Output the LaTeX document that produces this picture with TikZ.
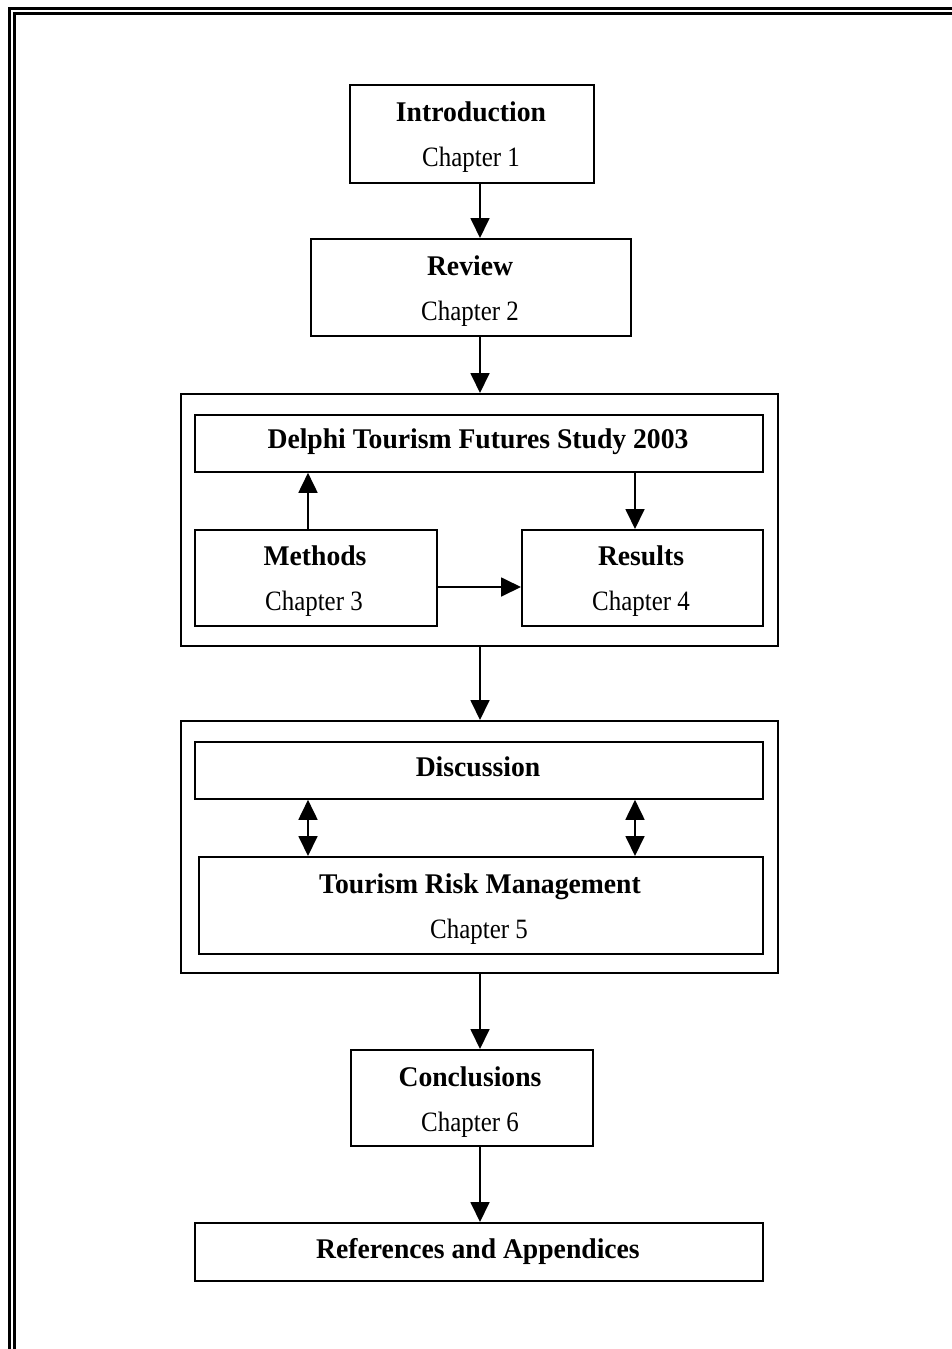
\documentclass[tikz,border=0pt]{standalone}
\usepackage{fontspec}
\setmainfont{Liberation Serif}
\usetikzlibrary{arrows.meta}
\newcommand{\ttltext}[1]{\scalebox{0.97}[1]{#1}}
\newcommand{\chptext}[1]{\scalebox{0.89}[1]{#1}}
\begin{document}
\begin{tikzpicture}[x=1pt,y=-1pt,
  box/.style={draw, line width=1.8pt, anchor=north west, inner sep=0pt},
  ttl/.style={font=\fontsize{28.5}{30}\selectfont\bfseries, inner sep=0pt, anchor=base},
  chp/.style={font=\fontsize{28}{30}\selectfont, inner sep=0pt, anchor=base},
  arr/.style={line width=1.8pt, -{Triangle[length=20pt,width=19pt]}},
  darr/.style={line width=1.8pt, {Triangle[length=20pt,width=19pt]}-{Triangle[length=20pt,width=19pt]}}]
\useasboundingbox (0,0) rectangle (952,1349);
\fill[white] (0,0) rectangle (952,1349);
% page frame
\draw[line width=3pt] (9,8) rectangle (975,1380);
\draw[line width=2.2pt] (14.5,13.5) rectangle (970,1375);

% Introduction
\node[box, minimum width=244pt, minimum height=98pt] (intro) at (349,84) {};
\node[ttl] (introT) at (471,121.5) {\ttltext{Introduction}};
\node[chp] (introC) at (471,166.5) {\chptext{Chapter 1}};

% Review
\node[box, minimum width=320pt, minimum height=97pt] (review) at (310,238) {};
\node[ttl] (reviewT) at (470,275) {\ttltext{Review}};
\node[chp] (reviewC) at (470,320) {\chptext{Chapter 2}};

% Group 1
\node[box, minimum width=597pt, minimum height=252pt] (g1) at (180,393) {};
\node[box, minimum width=568pt, minimum height=57pt] (delphi) at (194,414) {};
\node[ttl] (delphiT) at (478,448.5) {\ttltext{Delphi Tourism Futures Study 2003}};
\node[box, minimum width=242pt, minimum height=96pt] (methods) at (194,529) {};
\node[ttl] (methodsT) at (315,565.5) {\ttltext{Methods}};
\node[chp] (methodsC) at (314,610.5) {\chptext{Chapter 3}};
\node[box, minimum width=241pt, minimum height=96pt] (results) at (521,529) {};
\node[ttl] (resultsT) at (641,565.5) {\ttltext{Results}};
\node[chp] (resultsC) at (641,610.5) {\chptext{Chapter 4}};

% Group 2
\node[box, minimum width=597pt, minimum height=252pt] (g2) at (180,720) {};
\node[box, minimum width=568pt, minimum height=57pt] (disc) at (194,741) {};
\node[ttl] (discT) at (478,776) {\ttltext{Discussion}};
\node[box, minimum width=564pt, minimum height=97pt] (trm) at (198,856) {};
\node[ttl] (trmT) at (480,893) {\ttltext{Tourism Risk Management}};
\node[chp] (trmC) at (479,938) {\chptext{Chapter 5}};

% Conclusions
\node[box, minimum width=242pt, minimum height=96pt] (concl) at (350,1049) {};
\node[ttl] (conclT) at (470,1086) {\ttltext{Conclusions}};
\node[chp] (conclC) at (470,1131) {\chptext{Chapter 6}};

% References
\node[box, minimum width=568pt, minimum height=58pt] (refs) at (194,1222) {};
\node[ttl] (refsT) at (478,1258) {\ttltext{References and Appendices}};

% connectors
\draw[arr] (intro.south -| 480,0) -- (review.north -| 480,0);
\draw[arr] (review.south -| 480,0) -- (g1.north -| 480,0);
\draw[arr] (methods.north -| 308,0) -- (delphi.south -| 308,0);
\draw[arr] (delphi.south -| 635,0) -- (results.north -| 635,0);
\draw[arr] (methods.east |- 0,587) -- (results.west |- 0,587);
\draw[arr] (g1.south -| 480,0) -- (g2.north -| 480,0);
\draw[darr] (disc.south -| 308,0) -- (trm.north -| 308,0);
\draw[darr] (disc.south -| 635,0) -- (trm.north -| 635,0);
\draw[arr] (g2.south -| 480,0) -- (concl.north -| 480,0);
\draw[arr] (concl.south -| 480,0) -- (refs.north -| 480,0);
\end{tikzpicture}
\end{document}
